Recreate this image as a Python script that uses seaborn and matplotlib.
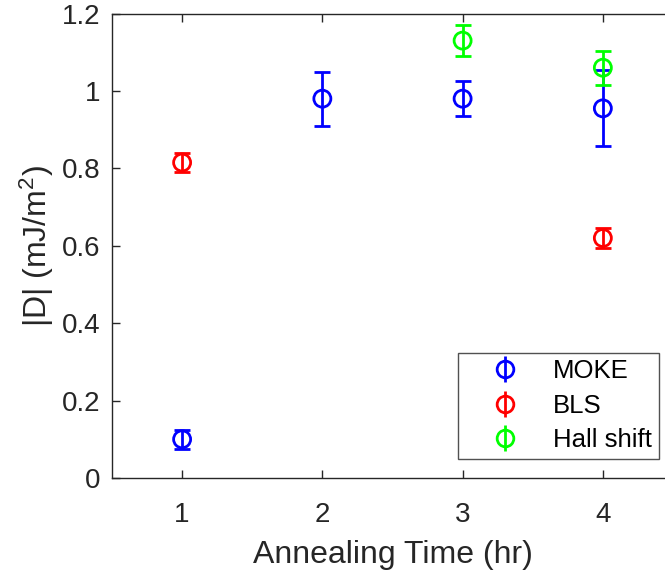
import numpy as np
import pandas as pd
import matplotlib
matplotlib.use("Agg")
import matplotlib.pyplot as plt
from matplotlib.ticker import FormatStrFormatter
import seaborn as sns

# Measurement data: |D| versus annealing time
moke_time = [1, 2, 3, 4]
moke_d = [0.10, 0.98, 0.98, 0.955]
moke_err = [0.025, 0.07, 0.045, 0.098]

bls_time = [1, 4]
bls_d = [0.815, 0.62]
bls_err = [0.025, 0.025]

hall_time = [3, 4]
hall_d = [1.13, 1.06]
hall_err = [0.04, 0.044]

series_names = ["MOKE", "BLS", "Hall shift"]
series_colors = ["#0000ff", "#ff0000", "#00ff00"]

x_ticks = [1, 2, 3, 4]
y_ticks = [0, 0.2, 0.4, 0.6, 0.8, 1.0, 1.2]

frames = []
for name, t, d, e in zip(series_names,
                         [moke_time, bls_time, hall_time],
                         [moke_d, bls_d, hall_d],
                         [moke_err, bls_err, hall_err]):
    frames.append(pd.DataFrame({"time": t, "D": d, "err": e, "method": name}))
df = pd.concat(frames, ignore_index=True)

sns.set_style("ticks")
plt.rcParams["font.family"] = ["Liberation Sans", "DejaVu Sans"]
plt.rcParams["mathtext.default"] = "regular"

fig = plt.figure(figsize=(6.65, 5.73), dpi=100)
ax = fig.add_axes([0.1684, 0.1658, 1.012 - 0.1684, 0.9764 - 0.1658])

LW = 2.0
CAP = 5.6
palette = dict(zip(series_names, series_colors))
handles = []
for name in series_names:
    sub = df[df["method"] == name]
    ax.errorbar(sub["time"], sub["D"], yerr=sub["err"], fmt="none",
                ecolor=palette[name], elinewidth=LW, capsize=CAP,
                capthick=LW, zorder=2)
    sns.scatterplot(data=sub, x="time", y="D", ax=ax, marker="o", s=150,
                    facecolors="none", edgecolor=palette[name],
                    linewidth=LW, legend=False, zorder=3)
    handles.append(ax.errorbar([], [], yerr=[], fmt="o", mfc="none",
                               mec=palette[name], mew=LW, ms=12,
                               ecolor=palette[name], elinewidth=LW,
                               capsize=CAP * 0.85, capthick=LW))

ax.set_xlim(0.5, 4.5)
ax.set_ylim(0, 1.2)
ax.set_xticks(x_ticks)
ax.set_yticks(y_ticks)
ax.yaxis.set_major_formatter(FormatStrFormatter("%g"))

edge = "#262626"
for side in ["left", "right", "top", "bottom"]:
    ax.spines[side].set_visible(True)
    ax.spines[side].set_color(edge)
    ax.spines[side].set_linewidth(1.0)
ax.tick_params(direction="in", length=6, width=1.0, color=edge,
               labelcolor=edge, labelsize=20, top=True, right=True)
ax.tick_params(axis="x", pad=17)
ax.tick_params(axis="y", pad=8.5)

ax.set_xlabel("Annealing Time (hr)", fontsize=23, color=edge, labelpad=9)
ax.set_ylabel("|D| (mJ/m$^{2}$)", fontsize=23, color=edge, labelpad=4)

leg = ax.legend(handles, series_names, loc="upper left",
                bbox_to_anchor=(458 / 665, 1 - 352.7 / 573),
                bbox_transform=fig.transFigure, fontsize=18.5,
                frameon=True, fancybox=False, borderpad=0.25,
                handlelength=3.16, handletextpad=0.3, labelspacing=0.41,
                borderaxespad=0)
leg.get_frame().set_edgecolor(edge)
leg.get_frame().set_linewidth(1.0)
for txt in leg.get_texts():
    txt.set_color("black")

fig.savefig("out.png", dpi=100)
